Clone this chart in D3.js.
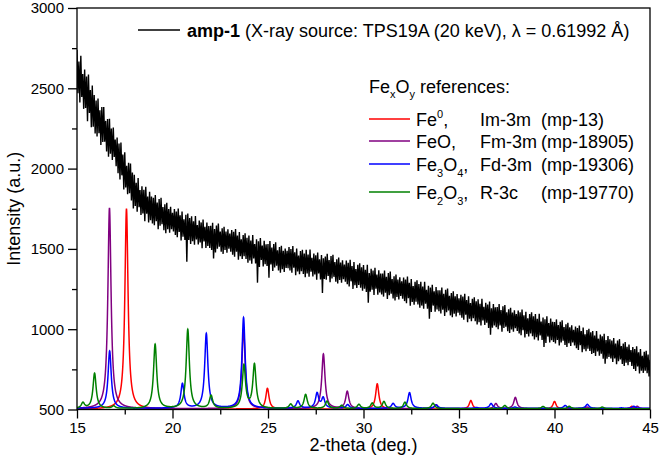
<!DOCTYPE html>
<html>
<head>
<meta charset="utf-8">
<script src="https://cdn.jsdelivr.net/npm/d3@7/dist/d3.min.js"></script>
<style>
  html, body { margin: 0; padding: 0; background: #fff; }
  svg { display: block; }
  text { font-family: "Liberation Sans", Arial, sans-serif; fill: #000; }
</style>
</head>
<body>
<svg id="chart" width="661" height="465"></svg>
<script>
// ---------------- data ----------------
const xTicks = [15, 20, 25, 30, 35, 40, 45];
const yTicks = [500, 1000, 1500, 2000, 2500, 3000];

// measured pattern amp-1 (2-theta starts at 15 deg, step 0.05 deg)
const ampStart = 15;
const ampStep = 0.05;
const ampIntensity = [
  2740, 2469, 2667, 2411, 2702, 2446, 2589, 2372, 2617, 2377, 2574, 2295, 2586, 2346, 2489, 2257, 2517, 2261, 2458, 2218,
  2424, 2200, 2436, 2220, 2363, 2147, 2383, 2166, 2383, 2167, 2297, 2107, 2309, 2074, 2310, 2093, 2250, 2054, 2256, 2073,
  2181, 2015, 2193, 1971, 2156, 1932, 2163, 1958, 2087, 1870, 2101, 1883, 2017, 1840, 2037, 1846, 2032, 1802, 1975, 1751,
  1961, 1767, 1912, 1731, 1942, 1760, 1866, 1712, 1890, 1721, 1868, 1673, 1887, 1719, 1826, 1664, 1856, 1678, 1826, 1658,
  1819, 1647, 1836, 1672, 1788, 1622, 1810, 1645, 1819, 1654, 1761, 1616, 1778, 1598, 1787, 1623, 1748, 1600, 1762, 1623,
  1725, 1608, 1749, 1587, 1733, 1572, 1752, 1605, 1709, 1552, 1732, 1576, 1684, 1556, 1713, 1420, 1721, 1556, 1692, 1531,
  1703, 1548, 1672, 1526, 1705, 1559, 1649, 1527, 1677, 1540, 1665, 1504, 1683, 1547, 1637, 1506, 1664, 1518, 1643, 1506,
  1644, 1494, 1663, 1440, 1623, 1477, 1646, 1501, 1658, 1513, 1608, 1482, 1628, 1469, 1638, 1493, 1608, 1476, 1622, 1501,
  1596, 1482, 1618, 1464, 1606, 1451, 1624, 1483, 1583, 1432, 1605, 1454, 1560, 1438, 1587, 1455, 1597, 1437, 1570, 1414,
  1583, 1428, 1552, 1407, 1586, 1440, 1531, 1410, 1560, 1290, 1548, 1388, 1567, 1431, 1521, 1391, 1550, 1404, 1529, 1393,
  1531, 1320, 1549, 1403, 1508, 1362, 1531, 1385, 1542, 1396, 1491, 1365, 1511, 1351, 1520, 1374, 1489, 1357, 1503, 1381,
  1488, 1380, 1512, 1365, 1499, 1351, 1518, 1383, 1479, 1336, 1503, 1359, 1459, 1342, 1486, 1361, 1495, 1344, 1471, 1324,
  1495, 1347, 1465, 1327, 1496, 1358, 1445, 1328, 1471, 1341, 1460, 1308, 1477, 1347, 1436, 1309, 1462, 1225, 1442, 1312,
  1452, 1308, 1470, 1332, 1431, 1293, 1455, 1316, 1464, 1326, 1418, 1296, 1435, 1284, 1446, 1306, 1415, 1290, 1429, 1312,
  1403, 1295, 1427, 1280, 1414, 1266, 1433, 1298, 1394, 1251, 1418, 1274, 1374, 1257, 1401, 1276, 1410, 1259, 1386, 1239,
  1400, 1252, 1370, 1232, 1401, 1165, 1350, 1233, 1376, 1246, 1365, 1213, 1382, 1252, 1341, 1214, 1367, 1228, 1347, 1217,
  1347, 1203, 1365, 1227, 1326, 1188, 1350, 1211, 1359, 1221, 1313, 1191, 1330, 1179, 1341, 1201, 1310, 1185, 1324, 1207,
  1298, 1190, 1322, 1175, 1309, 1161, 1328, 1193, 1289, 1146, 1313, 1169, 1269, 1152, 1296, 1171, 1305, 1154, 1281, 1134,
  1295, 1147, 1265, 1127, 1296, 1158, 1245, 1128, 1271, 1065, 1260, 1108, 1277, 1147, 1236, 1109, 1262, 1123, 1242, 1112,
  1242, 1098, 1260, 1122, 1221, 1083, 1245, 1106, 1254, 1116, 1208, 1086, 1225, 1074, 1236, 1096, 1205, 1080, 1219, 1102,
  1193, 1087, 1215, 1072, 1203, 1059, 1220, 1090, 1182, 1044, 1205, 1066, 1163, 1049, 1189, 1068, 1199, 1050, 1174, 1030,
  1187, 1043, 1158, 1023, 1189, 1054, 1139, 1026, 1165, 1040, 1154, 1007, 1173, 965, 1131, 1009, 1157, 1023, 1137, 1012,
  1138, 1000, 1157, 1023, 1120, 985, 1142, 1007, 1151, 1016, 1106, 988, 1124, 976, 1133, 999, 1104, 984, 1118, 1006,
  1095, 989, 1117, 974, 1106, 962, 1123, 993, 1086, 948, 1109, 970, 1068, 954, 1094, 973, 1105, 956, 1080, 936,
  1094, 950, 1065, 930, 1096, 961, 1047, 933, 1073, 890, 1062, 915, 1081, 954, 1039, 917, 1066, 931, 1046, 920,
  1045, 911, 1061, 933, 1026, 898, 1046, 918, 1056, 928, 1013, 902, 1030, 890, 1040, 912, 1012, 896, 1025, 917,
  997, 898, 1017, 882, 1007, 870, 1023, 900, 988, 857, 1010, 876, 969, 863, 995, 879, 1003, 864, 981, 845,
  989, 852, 961, 833, 989, 862, 941, 835, 967, 848, 956, 816, 972, 785, 933, 816, 957, 827, 937, 818,
  930, 796, 945, 818, 910, 782, 929, 801, 938, 811, 895, 784, 911, 771, 920, 792, 891, 776, 904, 796,
  870, 771, 889, 753, 877, 740, 893, 768, 856, 724, 877, 742, 834, 728, 859, 742, 866, 726, 843, 705,
  810
];

// reference peak lists (2-theta, peak-top intensity)
const fePeakPos  = [17.59, 24.97, 30.72, 35.62, 40.00, 44.05];
const fePeakInt  = [1750, 632, 660, 556, 550, 520];
const feoPeakPos = [16.70, 23.72, 27.90, 29.15, 33.80, 36.93, 37.95, 41.70, 44.33];
const feoPeakInt = [1755, 1000, 845, 612, 530, 537, 575, 515, 520];
const fe3o4PeakPos = [16.71, 20.52, 21.77, 23.72, 26.57, 27.57, 27.89, 29.17, 31.55, 32.41, 33.81, 35.91, 36.68, 37.93, 40.56, 41.72, 43.50, 44.15];
const fe3o4PeakInt = [865, 660, 972, 1072, 552, 600, 570, 530, 537, 605, 528, 512, 537, 515, 525, 532, 510, 520];
const fe2o3PeakPos = [15.31, 15.92, 16.92, 19.09, 20.80, 22.02, 23.74, 24.29, 26.19, 26.97, 28.09, 28.86, 29.76, 30.46, 31.07, 32.17, 33.64, 37.40, 39.40, 40.77, 42.50];
const fe2o3PeakInt = [540, 725, 520, 905, 997, 585, 772, 778, 532, 593, 551, 525, 531, 539, 549, 545, 539, 525, 519, 520, 515];

const seriesNames = ["Fe0", "FeO", "Fe3O4", "Fe2O3"];
const seriesColors = ["#ff0000", "#800080", "#0000ff", "#008000"];
const spaceGroups = ["Im-3m", "Fm-3m", "Fd-3m", "R-3c"];
const mpIds = ["(mp-13)", "(mp-18905)", "(mp-19306)", "(mp-19770)"];

// ---------------- layout ----------------
const svg = d3.select("#chart");
const L = 77, R = 650, T = 8, B = 409.5;
const x = d3.scaleLinear().domain([15, 45]).range([L, R]);
const y = d3.scaleLinear().domain([500, 3000]).range([B, T]);

svg.append("defs").append("clipPath").attr("id", "plotclip")
  .append("rect").attr("x", L).attr("y", T).attr("width", R - L).attr("height", B - T);

const plot = svg.append("g").attr("clip-path", "url(#plotclip)");

// amp-1 measured curve
const ampData = ampIntensity.map((v, i) => [ampStart + i * ampStep, v]);
const line = d3.line().x(d => x(d[0])).y(d => y(d[1]));
plot.append("path").datum(ampData)
  .attr("d", line).attr("fill", "none").attr("stroke", "#000")
  .attr("stroke-width", 1.4);

// reference patterns: peaks broadened with a Lorentzian profile on base line
const hw = 0.1;
function profile(pos, ints, base) {
  const pts = [];
  for (let k = 0; k <= 6000; k++) {
    const t = 15 + k * 0.005;
    let v = base;
    for (let j = 0; j < pos.length; j++) {
      const dt = t - pos[j];
      v += (ints[j] - base) * hw * hw / (dt * dt + hw * hw);
    }
    pts.push([t, v]);
  }
  return pts;
}
const refs = [
  profile(fePeakPos, fePeakInt, 503),
  profile(feoPeakPos, feoPeakInt, 505),
  profile(fe3o4PeakPos, fe3o4PeakInt, 507),
  profile(fe2o3PeakPos, fe2o3PeakInt, 505)
];
refs.forEach((pts, i) => {
  plot.append("path").datum(pts)
    .attr("d", line).attr("fill", "none")
    .attr("stroke", seriesColors[i]).attr("stroke-width", 1.5);
});

// ---------------- axes ----------------
const xMinor = d3.range(0, 6).map(i => 17.5 + i * 5);
const yMinor = d3.range(0, 5).map(i => 750 + i * 500);

svg.append("g").attr("transform", `translate(0,${B})`)
  .call(d3.axisBottom(x).tickValues(xTicks).tickSize(9).tickPadding(4).tickFormat(d3.format("d")));
svg.append("g").attr("transform", `translate(0,${B})`)
  .call(d3.axisBottom(x).tickValues(xMinor).tickSize(5).tickFormat(""));
svg.append("g").attr("transform", `translate(${L},0)`)
  .call(d3.axisLeft(y).tickValues(yTicks).tickSize(9).tickPadding(4).tickFormat(d3.format("d")));
svg.append("g").attr("transform", `translate(${L},0)`)
  .call(d3.axisLeft(y).tickValues(yMinor).tickSize(5).tickFormat(""));

svg.selectAll(".domain").remove();
svg.selectAll(".tick line").attr("stroke", "#000").attr("stroke-width", 1.3);
svg.selectAll(".tick text").style("font-size", "15px").attr("fill", "#000")
  .style("font-family", "'Liberation Sans', Arial, sans-serif");

// frame
svg.append("rect").attr("x", L).attr("y", T).attr("width", R - L).attr("height", B - T)
  .attr("fill", "none").attr("stroke", "#000").attr("stroke-width", 1.3);

// axis titles
svg.append("text").attr("x", (L + R) / 2).attr("y", 451)
  .attr("text-anchor", "middle").style("font-size", "18px").text("2-theta (deg.)");
svg.append("text").attr("transform", `translate(20,${(T + B) / 2}) rotate(-90)`)
  .attr("text-anchor", "middle").style("font-size", "18px").text("Intensity (a.u.)");

// ---------------- legends ----------------
const fs = "18px";
svg.append("line").attr("x1", 138).attr("x2", 180).attr("y1", 30).attr("y2", 30)
  .attr("stroke", "#000").attr("stroke-width", 1.6);
const t1 = svg.append("text").attr("x", 187).attr("y", 37).style("font-size", fs);
t1.append("tspan").attr("font-weight", "bold").text("amp-1");
t1.append("tspan").text(" (X-ray source: TPS19A (20 keV), \u03bb = 0.61992 \u00c5)");

// header Fe_xO_y references:
const h = svg.append("text").attr("x", 369).attr("y", 93).style("font-size", fs);
h.append("tspan").text("Fe");
h.append("tspan").attr("dy", 5).style("font-size", "11px").text("x");
h.append("tspan").attr("dy", -5).text("O");
h.append("tspan").attr("dy", 5).style("font-size", "11px").text("y");
h.append("tspan").attr("dy", -5).text(" references:");

const rowBase = [126, 148, 171, 199];
const formulas = [
  [["Fe", "n"], ["0", "p"], [",", "n"]],
  [["FeO,", "n"]],
  [["Fe", "n"], ["3", "b"], ["O", "n"], ["4", "b"], [",", "n"]],
  [["Fe", "n"], ["2", "b"], ["O", "n"], ["3", "b"], [",", "n"]]
];
seriesNames.forEach((name, i) => {
  const yb = rowBase[i];
  svg.append("line").attr("x1", 369).attr("x2", 410).attr("y1", yb - 7).attr("y2", yb - 7)
    .attr("stroke", seriesColors[i]).attr("stroke-width", 1.6);
  const t = svg.append("text").attr("x", 416).attr("y", yb).style("font-size", fs);
  let shift = 0;
  formulas[i].forEach(([s, k]) => {
    const target = k === "b" ? 6 : (k === "p" ? -8 : 0);
    const sp = t.append("tspan").attr("dy", target - shift).text(s);
    if (k !== "n") sp.style("font-size", "11px");
    shift = target;
  });
  svg.append("text").attr("x", 480).attr("y", yb).style("font-size", fs).text(spaceGroups[i]);
  svg.append("text").attr("x", 541).attr("y", yb).style("font-size", fs).text(mpIds[i]);
});
</script>
</body>
</html>
